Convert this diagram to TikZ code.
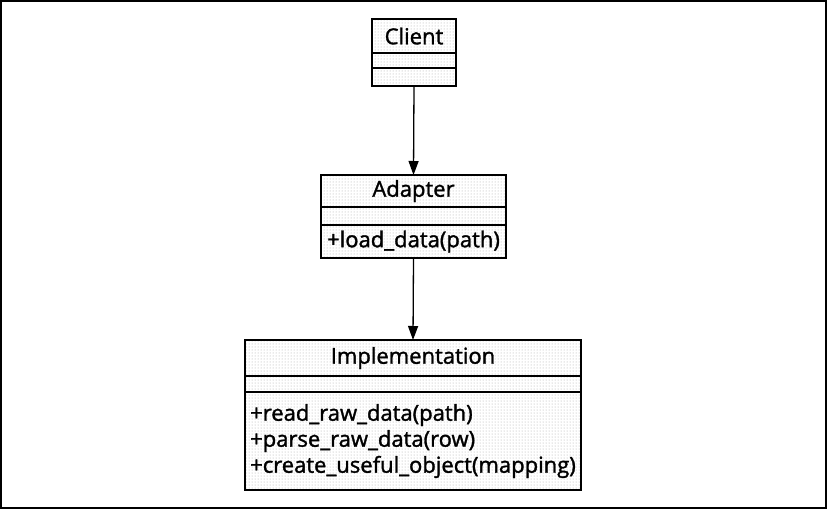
\documentclass[tikz,border=0pt]{standalone}
\usepackage{fontspec}
\setmainfont{Open Sans}
\newfontfamily\umlfont{Open Sans}[UprightFeatures={FakeBold=1.5}]
\usetikzlibrary{arrows.meta, patterns, positioning}

\tikzset{
  umlpart/.style={draw, line width=1.5pt, outer sep=0pt, inner sep=0pt,
    pattern=dots, pattern color=black!35, minimum width=#1,
    font=\umlfont\fontsize{22}{26}\selectfont, align=left},
  umllink/.style={-{Triangle[length=14pt,width=10pt]}, line width=1.3pt}
}

\begin{document}
\begin{tikzpicture}[x=1pt, y=-1pt]
  \useasboundingbox (0,0) rectangle (827,509);
  % cornice
  \draw[line width=2pt] (1,1) rectangle (826,508);

  % Client
  \node[umlpart=84pt, minimum height=34pt, anchor=north] (cTitle) at (414,19) {Client};
  \node[umlpart=84pt, minimum height=15pt, below=0pt of cTitle] (cAttr) {};
  \node[umlpart=84pt, minimum height=18pt, below=0pt of cAttr] (cOps) {};

  % Adapter
  \node[umlpart=185pt, minimum height=32pt, anchor=north] (aTitle) at (413.5,175) {Adapter};
  \node[umlpart=185pt, minimum height=18pt, below=0pt of aTitle] (aAttr) {};
  \node[umlpart=185pt, minimum height=33pt, below=0pt of aAttr] (aOps) {+load\_data(path)};

  % Implementation
  \node[umlpart=336pt, minimum height=36pt, anchor=north] (iTitle) at (413,340) {Implementation};
  \node[umlpart=336pt, minimum height=16pt, below=0pt of iTitle] (iAttr) {};
  \node[umlpart=336pt, minimum height=98pt, below=0pt of iAttr] (iOps)
    {+read\_raw\_data(path)\\+parse\_raw\_data(row)\\+create\_useful\_object(mapping)};

  % frecce
  \draw[umllink] (cOps.south) -- (aTitle.north);
  \draw[umllink] (aOps.south) -- (iTitle.north);
\end{tikzpicture}
\end{document}
